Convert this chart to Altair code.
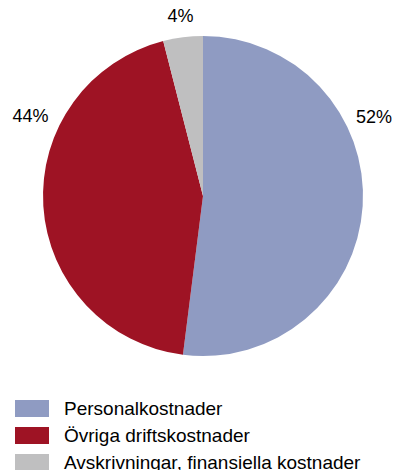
import altair as alt
import pandas as pd

categories = ["Personalkostnader", "Övriga driftskostnader", "Avskrivningar, finansiella kostnader"]
values = [52, 44, 4]
labels = ["52%", "44%", "4%"]
colors = ["#8f9bc2", "#9e1324", "#bfbfc0"]

df = pd.DataFrame({"kategori": categories, "andel": values, "etikett": labels,
                   "ordning": list(range(len(categories)))})

color = alt.Color(
    "kategori:N",
    sort=categories,
    scale=alt.Scale(domain=categories, range=colors),
    legend=alt.Legend(
        title=None,
        orient="none",
        legendX=7,
        legendY=383.5,
        direction="vertical",
        symbolType="M-1,-0.5H1V0.5H-1Z",
        symbolSize=1156,
        symbolStrokeWidth=0,
        symbolOpacity=1,
        labelFont="Liberation Sans",
        labelFontSize=19,
        labelColor="#000000",
        labelOffset=15,
        labelLimit=400,
        rowPadding=-6.7,
    ),
)

base = alt.Chart(df).encode(
    theta=alt.Theta("andel:Q", stack=True),
    order=alt.Order("ordning:Q"),
)

pie = base.mark_arc(radius=160, stroke=None, xOffset=2.5).encode(color=color)


def label_layer(cat, offset, radius):
    return alt.Chart(df).transform_stack(
        stack="andel", groupby=[], as_=["s0", "s1"], sort=[alt.SortField("ordning")]
    ).transform_calculate(
        mid="(datum.s0 + datum.s1) / 2"
    ).transform_filter(alt.datum.kategori == cat).mark_text(
        radius=radius, thetaOffset=offset, xOffset=2.5,
        font="Liberation Sans", fontSize=18, color="#000000"
    ).encode(
        theta=alt.Theta("mid:Q", scale=alt.Scale(domain=[0, 100]), stack=None),
        text="etikett:N",
    )


texts = alt.layer(
    label_layer(categories[0], -0.49, 188),
    label_layer(categories[1], 0.49, 189.5),
    label_layer(categories[2], 0.0, 180),
)

chart = alt.layer(pie, texts).resolve_scale(theta="independent").properties(
    width=385, height=376, padding=0
).configure_view(stroke=None)

chart.save("out.html", embed_options={"renderer": "svg", "actions": False})
